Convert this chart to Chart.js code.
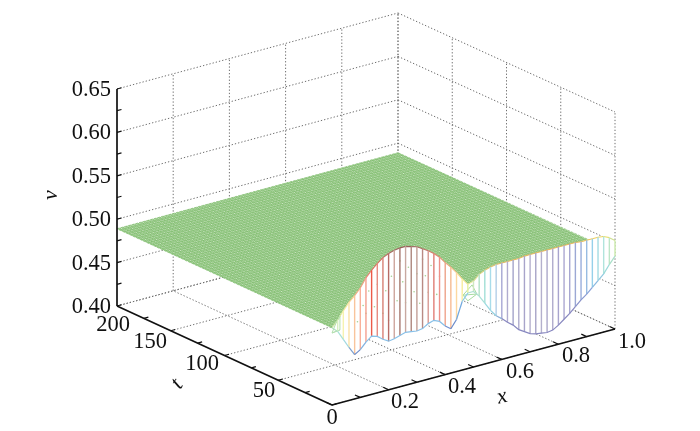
<!DOCTYPE html>
<html><head><meta charset="utf-8">
<style>html,body{margin:0;padding:0;background:#fff}canvas{display:block}</style>
<script src="https://cdn.jsdelivr.net/npm/chart.js@4"></script>
</head><body><canvas id="c" width="700" height="431"></canvas>
<script>
// ---- data ----
const xTicks=[0.2,0.4,0.6,0.8,1.0];
const tTicks=[0,50,100,150,200];
const vTicks=[0.40,0.45,0.50,0.55,0.60,0.65];
const xMinor=[0.1,0.3,0.5,0.7,0.9];
const tMinor=[25,75,125,175];
const vMinor=[0.425,0.475,0.525,0.575,0.625];
const flatV=0.489;
// front curtain at t=0, one entry per stripe, x = 0, 0.02, ... 1
const stripeX=[0,.02,.04,.06,.08,.10,.12,.14,.16,.18,.20,.22,.24,.26,.28,.30,.32,.34,.36,.38,.40,.42,.44,.46,.48,.50,.52,.54,.56,.58,.60,.62,.64,.66,.68,.70,.72,.74,.76,.78,.80,.82,.84,.86,.88,.90,.92,.94,.96,.98,1.0];
const vTop=[.489,.496,.505,.513,.519,.526,.536,.543,.549,.554,.557,.559,.560,.560,.558,.556,.552,.548,.543,.537,.529,.522,.514,.505,.497,.499,.505,.508,.510,.511,.511,.511,.511,.511,.512,.512,.512,.512,.512,.512,.512,.512,.512,.512,.511,.511,.511,.511,.510,.507,.502];
const vBottom=[.489,.483,.472,.461,.451,.455,.462,.467,.465,.460,.456,.457,.459,.461,.460,.459,.460,.464,.466,.463,.456,.451,.460,.479,.487,.487,.480,.470,.460,.452,.447,.441,.436,.429,.425,.421,.419,.418,.417,.418,.422,.427,.432,.438,.444,.449,.455,.461,.467,.476,.484];
const stripeColors=['#cfe8c0','#d8efc0','#f6f3b0','#fbe2a8','#f9c49c','#f9b09a','#f5a090','#ec5a48','#e88a80','#d98078','#b86c66','#cfa69e','#a87870','#c8a8a0','#b08880','#c4a098','#b88a84','#d89a94','#e27e78','#ee9088','#f0a48c','#f8bc94','#fcd8a0','#fbeea0','#e8f0a0','#d0e8c0','#b4e2c8','#a4e0d8','#a8dcea','#b4cfe8','#a8a8d6','#b0accf','#a4a4cb','#b0accd','#a8a4ca','#b4b0cd','#a8a4c7','#b4b0cd','#aca8ca','#b0accd','#a8a4ce','#aca8d2','#a6a6d2','#9ca8d4','#9aaedc','#98bce2','#96d0ea','#a4dce4','#b0e4dc','#bce6c8','#cbeaac'];
const topEdgeColors=['#d8e8a8','#e8eea0','#f6e8a0','#f8d090','#f4b088','#f0a080','#ec8070','#e06858','#d87060','#c07068','#a86860','#a06860','#986058','#986058','#a06860','#a86860','#c07068','#d87868','#e08870','#e89878','#f0a880','#f4c088','#f8d890','#f8e898','#e8e8a0','#d8d890','#d8d080','#e0c878','#e0c070','#e4b868','#e4b868','#e8b860','#e8b860','#e8b860','#e8b860','#e8b860','#e8b860','#e8b860','#e8b860','#e8b860','#e8b860','#e8b860','#e8b860','#e8b860','#ecc060','#f0c860','#f0d060','#f0d860','#e8e070','#d0e090','#c0e0a0'];
const bottomEdgeColors=['#b0e0c0','#a8e0d8','#a0d8e0','#7ca0d0','#6a88c8','#80b0e0','#88c0e8','#88c0e8','#88c0e8','#88c0e8','#88c0e8','#88c0e8','#88c0e8','#88c0e8','#88c0e8','#88c0e8','#88c0e8','#88c0e8','#88c0e8','#88c0e8','#7090d0','#6888c8','#70a8e0','#88c8e8','#b0e0d0','#b0e0d0','#a8e0d8','#98d8e0','#90d0e0','#8cb0d8','#8888c0','#8888c0','#8888c0','#8888c0','#8888c0','#8888c0','#8888c0','#8888c0','#8888c0','#8888c0','#8888c0','#8888c0','#8888c0','#8890c8','#8898d0','#88a0d8','#88b8e0','#90c8e0','#98d8d8','#a8e0c8','#b8e4b0'];
// stray mesh pieces [x, v] at the two cusps, and green specks showing through the curtain
const leftWire=[[0,.483],[.028,.484],[.028,.500],[.014,.493],[0,.483],[.028,.484]];
const midWire=[[.463,.486],[.495,.495],[.512,.483],[.463,.486],[.48,.478],[.512,.483]];
const specks=[[.09,.488],[.11,.505],[.13,.52],[.15,.50],[.16,.525],[.18,.49],[.19,.515],[.21,.53],[.23,.50],[.25,.52],[.26,.495],[.27,.535],[.29,.505],[.30,.525],[.31,.49],[.33,.52],[.34,.50],[.35,.53],[.37,.495],[.38,.515],[.24,.545],[.32,.54],[.12,.495],[.20,.48]];

// ---- view of (x,t,v) used by the 3-D box ----
const O={x:332,y:405}, XV={x:283,y:-76}, TV={x:-215,y:-99}, VK=868, SKEW=-2;
const P=(x,t,v)=>({x:O.x+XV.x*x+TV.x*t/200+SKEW*x*t/200, y:O.y+XV.y*x+TV.y*t/200-VK*(v-0.40)});
const GAP={x:NaN,y:NaN};
const segs=a=>{const r=[];a.forEach(s=>{r.push(s[0],s[1],GAP)});return r;};

const grid=[];
vTicks.forEach(v=>{grid.push([P(0,200,v),P(1,200,v)],[P(1,200,v),P(1,0,v)]);});
xTicks.forEach(x=>{grid.push([P(x,200,.40),P(x,200,.65)],[P(x,0,.40),P(x,200,.40)]);});
tTicks.forEach(t=>{grid.push([P(1,t,.40),P(1,t,.65)],[P(0,t,.40),P(1,t,.40)]);});

const axes=[[P(0,200,.65),P(0,200,.40)],[P(0,200,.40),P(0,0,.40)],[P(0,0,.40),P(1,0,.40)]];
const ticks=[];
vTicks.concat(vMinor).forEach(v=>ticks.push([P(0,200,v),P(.016,200,v)]));
tTicks.concat(tMinor).forEach(t=>ticks.push([P(0,t,.40),P(.016,t,.40)]));
[0].concat(xTicks,xMinor).forEach(x=>ticks.push([P(x,0,.40),P(x,5,.40)]));

// flat green surface mesh
const meshX=[],meshT=[];
for(let i=0;i<=190;i++)meshX.push(i/190);
for(let i=0;i<=170;i++)meshT.push(i*200/170);
const mesh=[];
meshX.forEach(x=>mesh.push([P(x,0,flatV),P(x,200,flatV)]));
meshT.forEach(t=>mesh.push([P(0,t,flatV),P(1,t,flatV)]));
const plane=[P(0,0,flatV),P(1,0,flatV),P(1,200,flatV),P(0,200,flatV),P(0,0,flatV)];

const stripes=stripeX.map((x,i)=>({
  type:'line',data:[P(x,0,vTop[i]),P(x,0,vBottom[i])],borderColor:stripeColors[i],borderWidth:1.4,pointRadius:0,order:3,fill:false
}));

const labels=[
 ...vTicks.map(v=>({s:v.toFixed(2),x:P(0,200,v).x-6,y:P(0,200,v).y+1,a:'right'})),
 {s:'200',x:113,y:325},{s:'150',x:150,y:342},{s:'100',x:202,y:364},{s:'50',x:264,y:391},{s:'0',x:332,y:418},
 {s:'0.2',x:405,y:402},{s:'0.4',x:462,y:387},{s:'0.6',x:520,y:372},{s:'0.8',x:576,y:356},{s:'1.0',x:632,y:342}
];
const textPlugin={id:'boxText',afterDraw(ch){
  const c=ch.ctx;c.save();c.fillStyle='#111';c.textBaseline='middle';
  c.font='22.5px "Liberation Serif"';
  labels.forEach(l=>{c.textAlign=l.a||'center';c.fillText(l.s,l.x,l.y);});
  c.font='italic 22px "Liberation Serif"';c.textAlign='center';
  [['v',51,195,-Math.PI/2],['t',177,384,-0.9],['x',502,397,-0.25]].forEach(([s,x,y,r])=>{
    c.save();c.translate(x,y);c.rotate(r);c.fillText(s,0,0);c.restore();});
  c.restore();
}};
const whiteBg={id:'bg',beforeDraw(ch){const c=ch.ctx;c.save();c.fillStyle='#fff';c.fillRect(0,0,ch.width,ch.height);c.restore();}};

new Chart(document.getElementById('c'),{
  type:'line',
  data:{datasets:[
    {label:'grid',data:segs(grid),borderColor:'#6e6e6e',borderWidth:1,borderDash:[1.3,2],pointRadius:0,order:9,fill:false,spanGaps:false},
    {label:'plane',data:plane,borderWidth:0,borderColor:'rgba(0,0,0,0)',backgroundColor:'#e2f1dc',pointRadius:0,order:8,fill:'shape'},
    {label:'v',data:segs(mesh),borderColor:'#74b660',borderWidth:0.62,borderDash:[2.7,1.1],pointRadius:0,order:7,fill:false,spanGaps:false},
    {label:'top',data:stripeX.map((x,i)=>P(x,0,vTop[i])),borderColor:'#e8b860',borderWidth:1.1,pointRadius:0,order:5,
      fill:{target:'+1'},backgroundColor:'#ffffff',segment:{borderColor:c=>topEdgeColors[c.p0DataIndex]}},
    {label:'bottom',data:stripeX.map((x,i)=>P(x,0,vBottom[i])),borderColor:'#88c0e8',borderWidth:1.2,pointRadius:0,order:2,fill:false,
      segment:{borderColor:c=>bottomEdgeColors[c.p0DataIndex]}},
    ...stripes,
    {label:'leftWire',data:leftWire.map(p=>P(p[0],0,p[1])),borderColor:'#b4e0b0',borderWidth:1,pointRadius:0,order:4,fill:false},
    {label:'midWire',data:midWire.map(p=>P(p[0],0,p[1])),borderColor:'#a8dca0',borderWidth:1,pointRadius:0,order:4,fill:false},
    {label:'specks',data:specks.map(p=>P(p[0],0,p[1])),showLine:false,pointRadius:0.8,pointBackgroundColor:'#a4d092',pointBorderWidth:0,order:3},
    {label:'axes',data:segs(axes),borderColor:'#111',borderWidth:1.7,pointRadius:0,order:1,fill:false,spanGaps:false},
    {label:'ticks',data:segs(ticks),borderColor:'#111',borderWidth:1.2,pointRadius:0,order:1,fill:false,spanGaps:false}
  ]},
  options:{responsive:false,animation:false,parsing:{xAxisKey:'x',yAxisKey:'y'},
    layout:{padding:0,autoPadding:false},
    elements:{line:{tension:0,borderCapStyle:'butt'}},
    plugins:{legend:{display:false},title:{display:false},tooltip:{enabled:false}},
    scales:{
      x:{type:'linear',min:0,max:700,display:false},
      y:{type:'linear',min:0,max:431,reverse:true,display:false}
    }
  },
  plugins:[whiteBg,textPlugin]
});
</script></body></html>
